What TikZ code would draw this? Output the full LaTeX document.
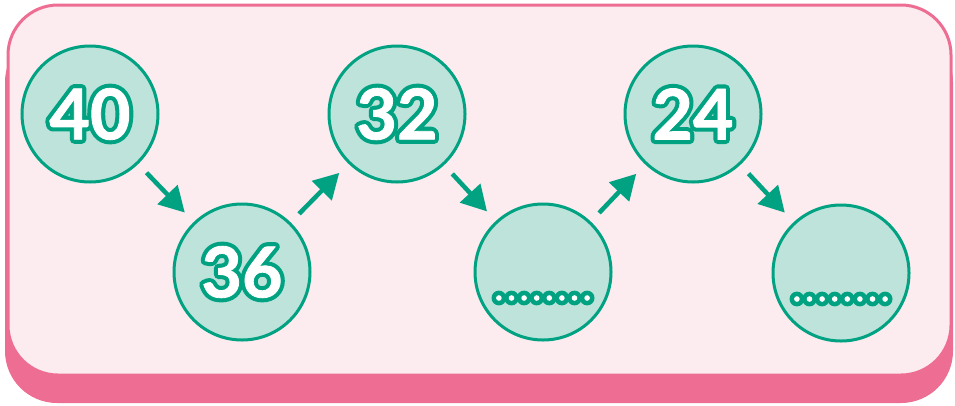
\documentclass[tikz,border=0pt]{standalone}
\usepackage{fontspec}
\newfontfamily\numfont{Lato}
\usetikzlibrary{arrows.meta}
\definecolor{pinkB}{HTML}{EE6E93}
\definecolor{pinkF}{HTML}{FCEBEF}
\definecolor{tealC}{HTML}{00A281}
\definecolor{tealF}{HTML}{BDE3DB}
\newcommand\strk[2]{\special{pdf:literal direct 2 Tr #1 w 1 j 1 J}#2\special{pdf:literal direct 0 Tr}}
\newcommand\outnum[2]{%
  \node[numtext,text=tealC] at (#1) {\strk{9}{#2}};
  \node[numtext,text=white] at (#1) {\strk{0.8}{#2}};}
\newcommand\dotline[1]{%
  \foreach \i in {0,...,7}{\fill[tealC] ([xshift={(\i-3.5)*12.6pt},yshift=-26pt]#1.center) circle (7.4pt);}
  \foreach \i in {0,...,7}{\fill[white] ([xshift={(\i-3.5)*12.6pt},yshift=-26pt]#1.center) circle (2.8pt);}}
\begin{document}
\begin{tikzpicture}[x=1pt,y=-1pt,
  bubble/.style={circle,draw=tealC,fill=tealF,line width=3pt,minimum size=136pt,inner sep=0pt},
  numtext/.style={font=\numfont\bfseries\fontsize{70}{70}\selectfont,inner sep=0pt},
  arr/.style={draw=tealC,line width=4.5pt,-{Triangle[length=25pt,width=27pt]},shorten >=13pt,shorten <=12pt}]
\useasboundingbox (0,0) rectangle (955,405);
\fill[pinkB,rounded corners=52pt] (5,30) rectangle (953,403);
\draw[pinkB,fill=pinkF,line width=3pt,rounded corners=50pt] (8,5) rectangle (951,375);
\node[bubble] (n1) at (90,114) {};
\node[bubble] (n2) at (242,272) {};
\node[bubble] (n3) at (397,114) {};
\node[bubble] (n4) at (543,272) {};
\node[bubble] (n5) at (693,114) {};
\node[bubble] (n6) at (841,273) {};
\outnum{n1}{40}
\outnum{n2}{36}
\outnum{n3}{32}
\outnum{n5}{24}
\dotline{n4}
\dotline{n6}
\draw[arr] (n1) -- (n2);
\draw[arr] (n2) -- (n3);
\draw[arr] (n3) -- (n4);
\draw[arr] (n4) -- (n5);
\draw[arr] (n5) -- (n6);
\end{tikzpicture}
\end{document}
